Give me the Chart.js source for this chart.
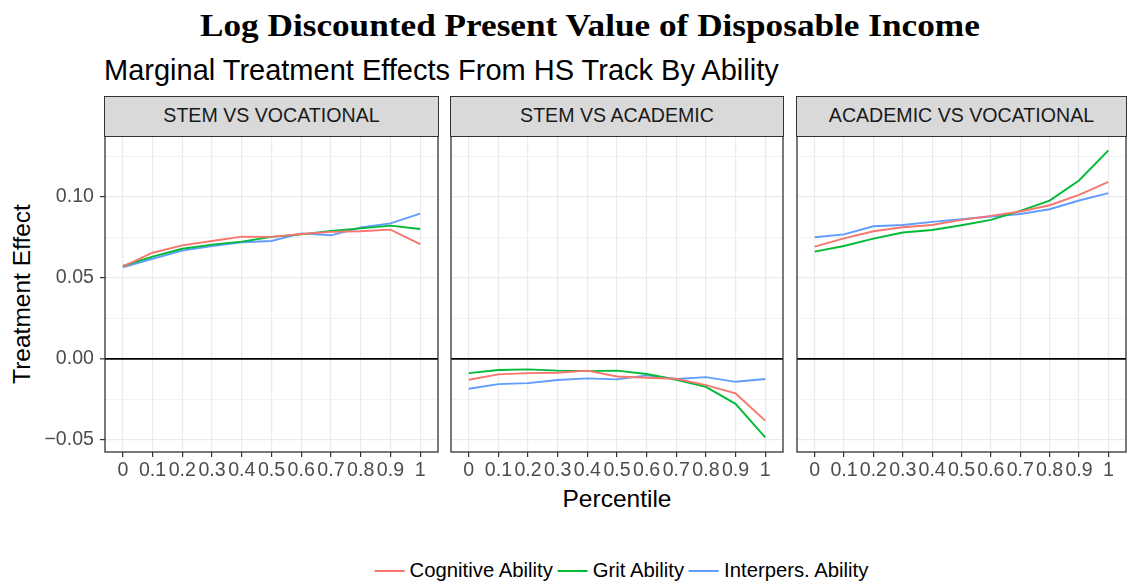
<!DOCTYPE html>
<html>
<head>
<meta charset="utf-8">
<script src="https://cdn.jsdelivr.net/npm/chart.js@4.4.1/dist/chart.umd.min.js"></script>
<style>
  body { margin: 0; width: 1127px; height: 583px; background: #fff; position: relative; overflow: hidden;
         font-family: "Liberation Sans", Arial, sans-serif; }
  .abs { position: absolute; white-space: nowrap; }
  #title { left: 200px; top: 7px; font: bold 32px "Liberation Serif", serif; color: #000; transform-origin: 0 0; }
  #subtitle { left: 104px; top: 54px; font-size: 29px; color: #000; }
  .strip { position: absolute; top: 96px; height: 41px; background: #d9d9d9; border: 1.2px solid #333;
           box-sizing: border-box; font-size: 19.6px; color: #1a1a1a; text-align: center; line-height: 37px; }
  #ylab { left: 22px; top: 294px; font-size: 24.5px; transform: translate(-50%, -50%) rotate(-90deg); }
  #xlab { left: 617px; top: 499px; font-size: 24.5px; transform: translate(-50%, -50%); }
  #legend { left: 619px; top: 559px; display: flex; font-size: 20.3px; color: #000; transform: translateX(-50%); }
  #legend .item { display: flex; align-items: center; }
  #legend .key { width: 30px; height: 2px; margin: 0 5px; }
  canvas { position: absolute; }
</style>
</head>
<body>
<div id="title" class="abs">Log Discounted Present Value of Disposable Income</div>
<div id="subtitle" class="abs">Marginal Treatment Effects From HS Track By Ability</div>
<div id="ylab" class="abs">Treatment Effect</div>
<div id="xlab" class="abs">Percentile</div>
<div id="legend" class="abs"></div>

<script>
// ---- data ----
const percentiles = [0, 0.1, 0.2, 0.3, 0.4, 0.5, 0.6, 0.7, 0.8, 0.9, 1];
const xTickLabels = ['0', '0.1', '0.2', '0.3', '0.4', '0.5', '0.6', '0.7', '0.8', '0.9', '1'];
const yTickValues = [-0.05, 0, 0.05, 0.10];
const yTickLabels = ['\u22120.05', '0.00', '0.05', '0.10'];
const yMinorValues = [-0.025, 0.025, 0.075, 0.125];

const panelTitles = ['STEM VS VOCATIONAL', 'STEM VS ACADEMIC', 'ACADEMIC VS VOCATIONAL'];
const seriesNames = ['Cognitive Ability', 'Grit Ability', 'Interpers. Ability'];
const seriesColors = ['#F8766D', '#00BA38', '#619CFF'];

const stemVocCognitive = [0.0569, 0.0655, 0.0701, 0.0728, 0.0755, 0.0753, 0.0771, 0.0784, 0.0788, 0.0798, 0.0709];
const stemVocGrit      = [0.0573, 0.0631, 0.0680, 0.0705, 0.0724, 0.0753, 0.0769, 0.0790, 0.0806, 0.0823, 0.0802];
const stemVocInterpers = [0.0565, 0.0618, 0.0668, 0.0697, 0.0720, 0.0728, 0.0775, 0.0763, 0.0811, 0.0837, 0.0897];

const stemAcadCognitive = [-0.0130, -0.0097, -0.0089, -0.0087, -0.0074, -0.0110, -0.0118, -0.0124, -0.0163, -0.0215, -0.0383];
const stemAcadGrit      = [-0.0089, -0.0070, -0.0066, -0.0074, -0.0077, -0.0074, -0.0095, -0.0130, -0.0174, -0.0279, -0.0486];
const stemAcadInterpers = [-0.0186, -0.0157, -0.0151, -0.0132, -0.0122, -0.0128, -0.0103, -0.0126, -0.0114, -0.0143, -0.0126];

const acadVocCognitive = [0.0693, 0.0744, 0.0788, 0.0813, 0.0827, 0.0858, 0.0883, 0.0910, 0.0949, 0.1013, 0.1094];
const acadVocGrit      = [0.0662, 0.0697, 0.0742, 0.0780, 0.0796, 0.0825, 0.0858, 0.0914, 0.0978, 0.1102, 0.1288];
const acadVocInterpers = [0.0751, 0.0769, 0.0819, 0.0827, 0.0846, 0.0862, 0.0879, 0.0895, 0.0924, 0.0978, 0.1024];

const panelSeries = [
  [stemVocCognitive, stemVocGrit, stemVocInterpers],
  [stemAcadCognitive, stemAcadGrit, stemAcadInterpers],
  [acadVocCognitive, acadVocGrit, acadVocInterpers]
];

// ---- layout: plot areas in page pixels ----
const PAD = 6;
const areas = [
  { left: 105, right: 438, top: 136, bottom: 452 },
  { left: 451, right: 783, top: 136, bottom: 452 },
  { left: 797, right: 1126, top: 136, bottom: 452 }
];
const AXIS_H = 40;
const TICK_FONT = { family: '"Liberation Sans", Arial, sans-serif', size: 19.6 };

const isMultiple = (v, step) => Math.abs(v / step - Math.round(v / step)) < 1e-6;

// chart.js pads axes for edge labels; we place everything ourselves
const noPad = sc => { sc.paddingTop = 0; sc.paddingBottom = 0; sc.paddingLeft = 0; sc.paddingRight = 0; };

const panelBorder = {
  id: 'panelBorder',
  afterDraw(chart) {
    const a = chart.chartArea, ctx = chart.ctx;
    ctx.save();
    ctx.strokeStyle = '#333333';
    ctx.lineWidth = 1.3;
    ctx.strokeRect(a.left, a.top, a.right - a.left, a.bottom - a.top);
    ctx.restore();
  }
};

areas.forEach((area, p) => {
  const first = p === 0;
  const yW = first ? area.left : PAD;
  const rightPad = p === 2 ? 1 : PAD;
  const cLeft = first ? 0 : area.left - PAD;
  const cTop = area.top - PAD;
  const w = yW + (area.right - area.left) + rightPad;
  const h = PAD + (area.bottom - area.top) + AXIS_H;

  const canvas = document.createElement('canvas');
  canvas.width = w; canvas.height = h;
  canvas.style.left = cLeft + 'px';
  canvas.style.top = cTop + 'px';
  document.body.appendChild(canvas);

  const strip = document.createElement('div');
  strip.className = 'strip';
  strip.style.left = (area.left - 0.6) + 'px';
  strip.style.width = (area.right - area.left + 1.2) + 'px';
  strip.textContent = panelTitles[p];
  document.body.appendChild(strip);

  new Chart(canvas, {
    type: 'line',
    data: {
      datasets: panelSeries[p].map((vals, s) => ({
        label: seriesNames[s],
        data: percentiles.map((x, i) => ({ x, y: vals[i] })),
        borderColor: seriesColors[s],
        borderWidth: 1.9,
        pointRadius: 0,
        tension: 0,
        fill: false
      }))
    },
    options: {
      responsive: false,
      animation: false,
      devicePixelRatio: 1,
      layout: { padding: { top: PAD, right: rightPad, left: 0, bottom: 0 } },
      plugins: { legend: { display: false }, tooltip: { enabled: false } },
      scales: {
        x: {
          type: 'linear',
          min: -0.06, max: 1.06,
          afterBuildTicks: sc => { sc.ticks = percentiles.map(v => ({ value: v })); },
          afterFit: sc => { sc.height = AXIS_H; noPad(sc); },
          border: { display: false },
          grid: { color: '#ebebeb', lineWidth: 1.2, tickColor: '#333333', tickLength: 5, tickWidth: 1.2 },
          ticks: {
            padding: 2, maxRotation: 0, autoSkip: false, color: '#4d4d4d', font: TICK_FONT,
            callback: (v, i) => xTickLabels[i]
          }
        },
        y: {
          type: 'linear',
          min: -0.0577, max: 0.1377,
          afterBuildTicks: sc => {
            sc.ticks = yTickValues.concat(yMinorValues).sort((a, b) => a - b).map(v => ({ value: v }));
          },
          afterFit: sc => { sc.width = yW; noPad(sc); },
          border: { display: false },
          grid: {
            drawTicks: first,
            tickLength: 5,
            tickWidth: 1.2,
            color: c => c.tick.value === 0 ? '#000000' : '#ebebeb',
            lineWidth: c => c.tick.value === 0 ? 1.7 : (isMultiple(c.tick.value, 0.05) ? 1.2 : 0.6),
            tickColor: c => isMultiple(c.tick.value, 0.05) ? '#333333' : 'rgba(0,0,0,0)'
          },
          ticks: {
            display: first, padding: 6, color: '#4d4d4d', font: TICK_FONT, autoSkip: false,
            callback: v => {
              const k = yTickValues.findIndex(t => Math.abs(t - v) < 1e-9);
              return k >= 0 ? yTickLabels[k] : '';
            }
          }
        }
      }
    },
    plugins: [panelBorder]
  });
});

// legend
const legend = document.getElementById('legend');
seriesNames.forEach((name, s) => {
  const item = document.createElement('div');
  item.className = 'item';
  item.innerHTML = '<span class="key" style="background:' + seriesColors[s] + '"></span><span>' + name + '</span>';
  legend.appendChild(item);
});

// stretch the serif title to the reference width
const title = document.getElementById('title');
title.style.transform = 'scaleX(' + (780 / title.offsetWidth) + ')';
</script>
</body>
</html>
